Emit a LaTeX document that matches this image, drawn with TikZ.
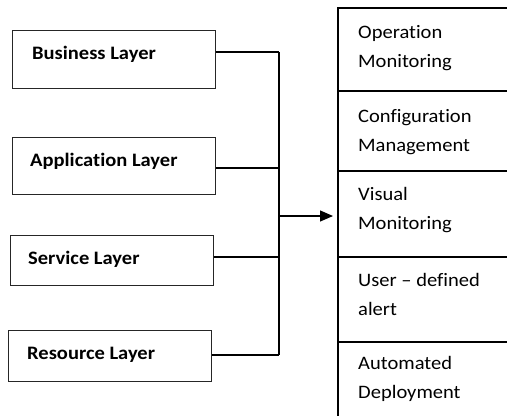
\documentclass[tikz,border=0pt]{standalone}
\usepackage{fontspec}
\setmainfont{Carlito}[FakeStretch=1.08,Ligatures={NoCommon}]
\usetikzlibrary{arrows.meta}
\begin{document}
\begin{tikzpicture}[x=1pt,y=-1pt,
  layerbox/.style={draw=black!85,line width=1pt,rectangle,inner sep=0pt,minimum width=203pt,minimum height=57pt,anchor=north west},
  layertext/.style={anchor=base west,inner sep=0pt,font=\fontsize{19}{23}\selectfont\bfseries},
  celltext/.style={anchor=base west,inner sep=0pt,align=left,font=\fontsize{19}{29}\selectfont},
  cell/.style={rectangle,inner sep=0pt,anchor=north west,minimum width=169pt},
  conn/.style={line width=1.2pt,black}]
\useasboundingbox (0,0) rectangle (507,416);
% left boxes
\node[layerbox,minimum height=58pt] (b1) at (12,30) {};
\node[layertext] (t1) at (32,59) {Business Layer};
\node[layerbox] (b2) at (12,137) {};
\node[layertext] (t2) at (30,166) {Application Layer};
\node[layerbox,minimum height=50pt] (b3) at (10,235) {};
\node[layertext] (t3) at (28,264) {Service Layer};
\node[layerbox,minimum height=51pt] (b4) at (8,330) {};
\node[layertext] (t4) at (27,359) {Resource Layer};
% bus
\coordinate (j1) at (279,52);
\coordinate (j2) at (279,168);
\coordinate (j3) at (279,257);
\coordinate (j4) at (279,355);
\coordinate (ja) at (279,216);
\draw[conn] (b1.east |- j1) -- (j1);
\draw[conn] (b2.east |- j2) -- (j2);
\draw[conn] (b3.east |- j3) -- (j3);
\draw[conn] (b4.east |- j4) -- (j4);
\draw[conn] (j1) -- (j4);
% right cells
\node[cell,minimum height=83pt] (c1) at (338,8) {};
\node[cell,minimum height=80pt] (c2) at (338,91) {};
\node[cell,minimum height=86pt] (c3) at (338,171) {};
\node[cell,minimum height=85pt] (c4) at (338,257) {};
\node[cell,minimum height=74pt] (c5) at (338,342) {};
\draw[conn] (c1.north east) -- (c1.north west) -- (c5.south west);
\draw[conn] (c2.north west) -- (c2.north east);
\draw[conn] (c3.north west) -- (c3.north east);
\draw[conn] (c4.north west) -- (c4.north east);
\draw[conn] (c5.north west) -- (c5.north east);
\node[celltext] (d1) at (358,67) {Operation\\Monitoring};
\node[celltext] (d2) at (358,151) {Configuration\\Management};
\node[celltext] (d3) at (358,229) {Visual\\Monitoring};
\node[celltext] (d4) at (358,315) {User -- defined\\alert};
\node[celltext] (d5) at (358,398) {Automated\\Deployment};
% arrow
\draw[conn,-{Triangle[length=13pt,width=11pt]},shorten >=5pt] (ja) -- (ja -| c3.west);
\end{tikzpicture}
\end{document}
